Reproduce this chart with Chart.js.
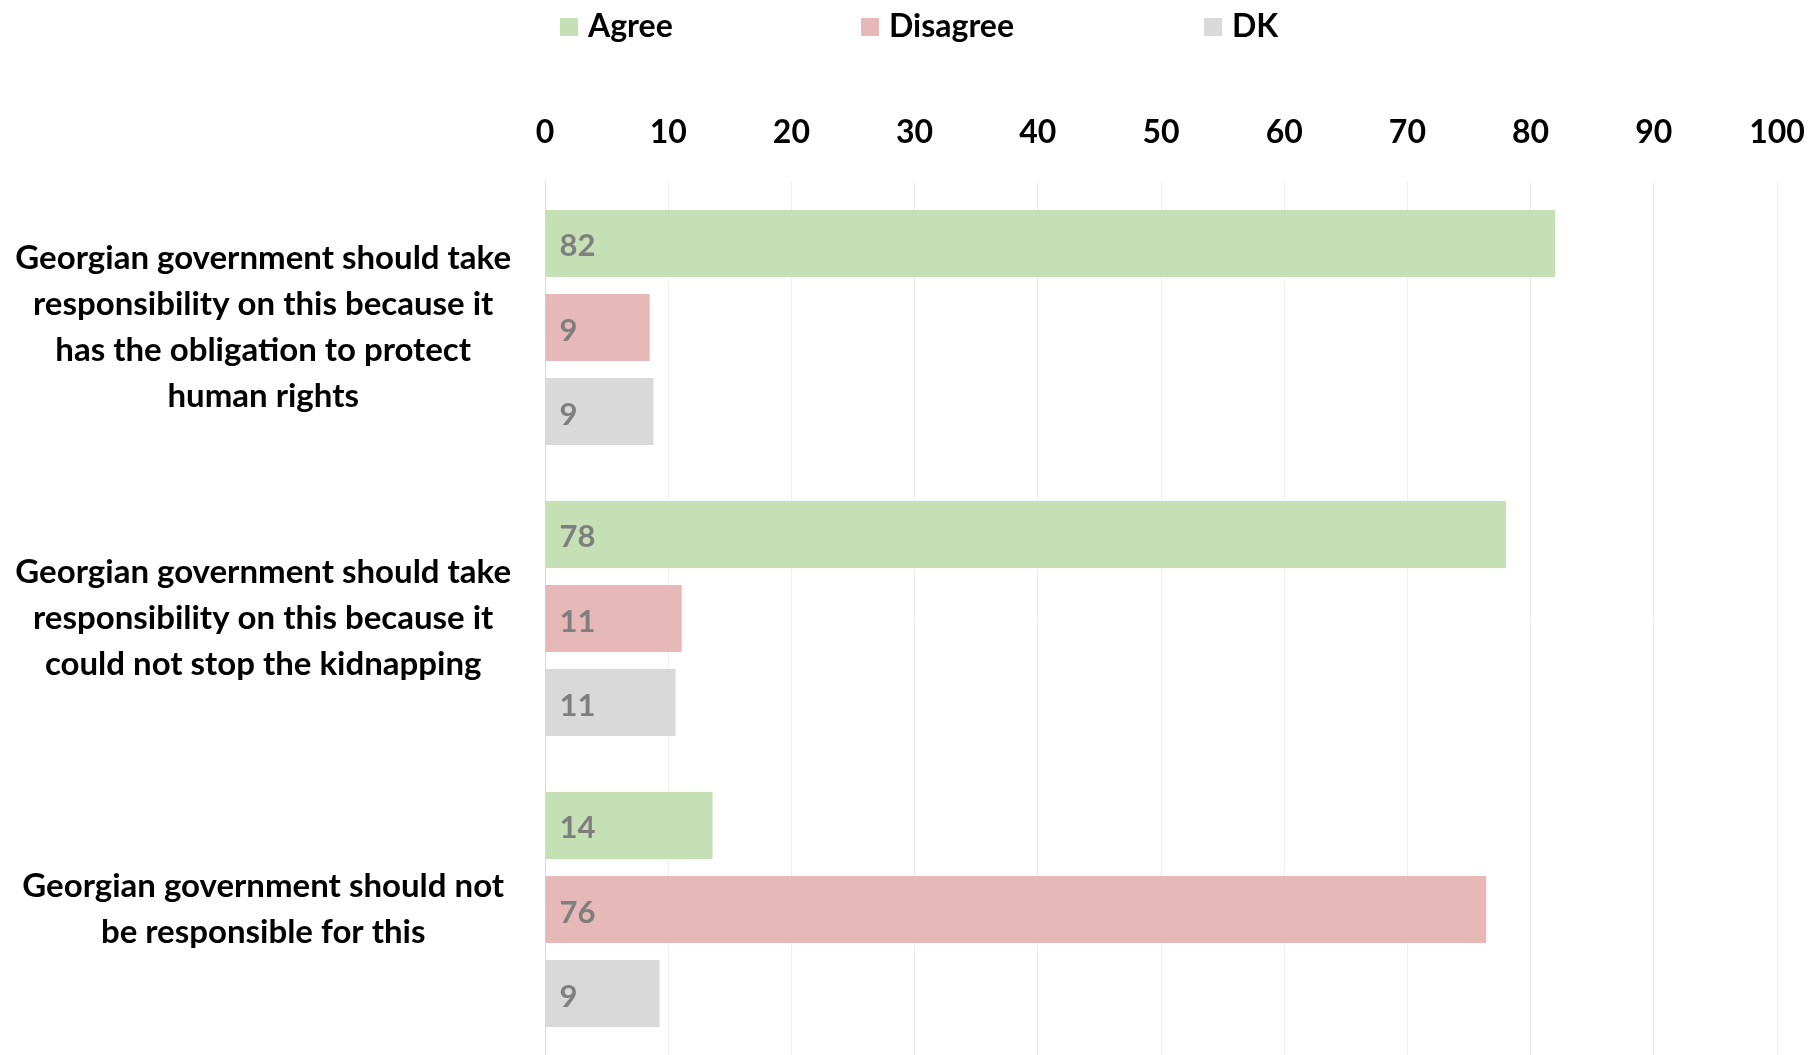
<!DOCTYPE html>
<html>
<head>
<meta charset="utf-8">
<script src="https://cdn.jsdelivr.net/npm/chart.js@4/dist/chart.umd.min.js"></script>
<style>
  html, body { margin: 0; padding: 0; background: #ffffff; }
  #wrap { position: relative; width: 1810px; height: 1055px; }
  #chart { position: absolute; left: 0; top: 0; }
  .leg { position: absolute; top: 5px; font-family: Lato, "Open Sans", sans-serif; font-weight: bold; font-size: 32px; color: #000; line-height: 40px; white-space: nowrap; }
  .leg i { display: inline-block; width: 18px; height: 18px; margin-right: 10px; vertical-align: 1px; }
</style>
</head>
<body>
<div id="wrap">
  <canvas id="chart" width="1810" height="1055"></canvas>
  <div id="legend"></div>
</div>
<script>
const categories = [
  ["Georgian government should take", "responsibility on this because it", "has the obligation to protect", "human rights"],
  ["Georgian government should take", "responsibility on this because it", "could not stop the kidnapping"],
  ["Georgian government should not", "be responsible for this"]
];
const seriesNames = ["Agree", "Disagree", "DK"];
const agree = [82, 78, 13.6];
const disagree = [8.5, 11.1, 76.4];
const dk = [8.8, 10.6, 9.3];
const xTicks = [0, 10, 20, 30, 40, 50, 60, 70, 80, 90, 100];
const colors = ["#c5e0b4", "#e6b8b7", "#d9d9d9"];
const legendX = [560, 861, 1204];

const FONT = 'Lato, "Open Sans", sans-serif';

// HTML legend
const legendEl = document.getElementById('legend');
seriesNames.forEach((n, i) => {
  const d = document.createElement('div');
  d.className = 'leg';
  d.style.left = legendX[i] + 'px';
  d.innerHTML = '<i style="background:' + colors[i] + '"></i>' + n;
  legendEl.appendChild(d);
});

const valueLabels = {
  id: 'valueLabels',
  afterDatasetsDraw(chart) {
    const ctx = chart.ctx;
    ctx.save();
    ctx.font = 'bold 31px ' + FONT;
    ctx.fillStyle = '#7f7f7f';
    ctx.textAlign = 'left';
    ctx.textBaseline = 'middle';
    chart.data.datasets.forEach((ds, di) => {
      const meta = chart.getDatasetMeta(di);
      meta.data.forEach((bar, i) => {
        ctx.fillText(String(Math.round(ds.data[i])), bar.base + 14, bar.y + 3);
      });
    });
    ctx.restore();
  }
};

new Chart(document.getElementById('chart'), {
  type: 'bar',
  data: {
    labels: categories,
    datasets: [
      { label: seriesNames[0], data: agree, backgroundColor: colors[0] },
      { label: seriesNames[1], data: disagree, backgroundColor: colors[1] },
      { label: seriesNames[2], data: dk, backgroundColor: colors[2] }
    ]
  },
  options: {
    indexAxis: 'y',
    responsive: false,
    animation: false,
    devicePixelRatio: 1,
    layout: { padding: 0 },
    datasets: { bar: { categoryPercentage: 0.866, barPercentage: 0.80 } },
    plugins: {
      legend: { display: false },
      tooltip: { enabled: false }
    },
    scales: {
      x: {
        position: 'top',
        min: 0,
        max: 100,
        afterBuildTicks(scale) { scale.ticks = xTicks.map(v => ({ value: v })); },
        afterFit(scale) {
          scale.height = 182;
          scale.paddingLeft = 0;
          scale.paddingRight = 33;
        },
        ticks: {
          color: '#000',
          font: { family: FONT, size: 32, weight: 'bold', lineHeight: 1.2 },
          padding: 30,
          maxRotation: 0
        },
        grid: { color: '#eeeeee', lineWidth: 1, drawTicks: false },
        border: { display: false }
      },
      y: {
        afterFit(scale) {
          scale.width = 545;
          scale.paddingTop = 0;
          scale.paddingBottom = 0;
        },
        ticks: {
          color: '#000',
          autoSkip: false,
          crossAlign: 'center',
          padding: 34,
          font: { family: FONT, size: 33, weight: 'bold', lineHeight: 1.39 }
        },
        grid: { display: false, drawTicks: false },
        border: { display: true, color: '#d9d9d9', width: 1 }
      }
    }
  },
  plugins: [valueLabels]
});
</script>
</body>
</html>
